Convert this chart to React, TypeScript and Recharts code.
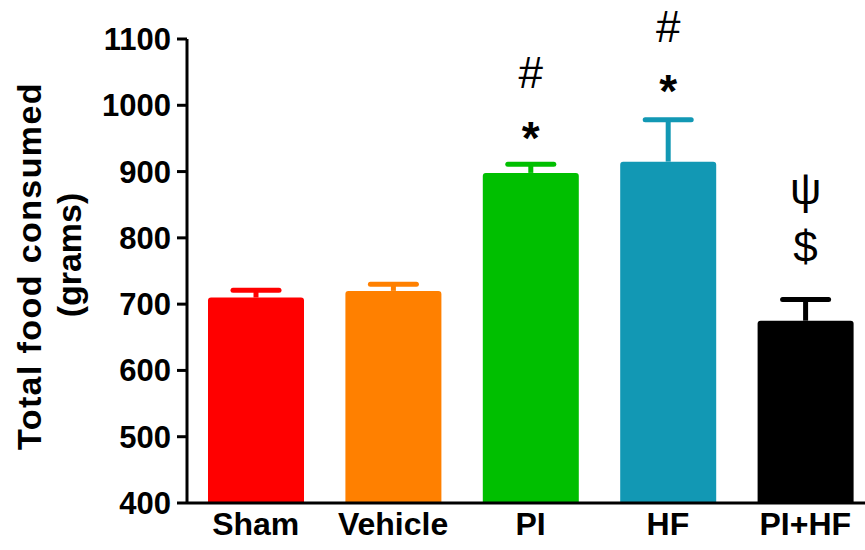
import { Bar, BarChart, Label, XAxis, YAxis } from "recharts";

const categories = ["Sham", "Vehicle", "PI", "HF", "PI+HF"];
const meanFood = [710, 720, 898, 915, 675];
const semFood = [11, 10, 13, 63, 32];
const barColors = ["#ff0000", "#ff8000", "#00bf00", "#1298b4", "#000000"];
// significance marks: lower one sits right above the error cap, upper one above it
const lowerMarks = ["", "", "*", "*", "$"];
const upperMarks = ["", "", "#", "#", "\u03c8"];
const yTicks = [400, 500, 600, 700, 800, 900, 1000, 1100];

const Y_MIN = 400;
const Y_MAX = 1100;
const FONT = "'Liberation Sans', Arial, Helvetica, sans-serif";

// baseline distance (px) of each mark above the error cap
const lowerGap = [0, 0, 10, 13, 38];
const upperGap = [0, 0, 76, 78, 96];

const data = categories.map((name, i) => ({
  name,
  mean: meanFood[i],
  sem: semFood[i],
  color: barColors[i],
  lower: lowerMarks[i],
  upper: upperMarks[i],
  idx: i,
}));

function BarWithError(props: any) {
  const { x, y, width, height, payload } = props;
  const r = 3;
  const pxPerUnit = height / (payload.mean - Y_MIN);
  const capY = y - payload.sem * pxPerUnit;
  const cx = x + width / 2;
  const capHalf = 23;
  const path = `M${x},${y + height} L${x},${y + r} Q${x},${y} ${x + r},${y} L${x + width - r},${y} Q${x + width},${y} ${x + width},${y + r} L${x + width},${y + height} Z`;
  const i = payload.idx;
  return (
    <g>
      <path d={path} fill={payload.color} />
      <line x1={cx} x2={cx} y1={y} y2={capY} stroke={payload.color} strokeWidth={5} />
      <line
        x1={cx - capHalf}
        x2={cx + capHalf}
        y1={capY}
        y2={capY}
        stroke={payload.color}
        strokeWidth={5}
        strokeLinecap="round"
      />
      {payload.lower && (
        <text
          x={cx}
          y={capY - lowerGap[i]}
          textAnchor="middle"
          fontFamily={FONT}
          fontSize={payload.lower === "*" ? 46 : 44}
          fontWeight={payload.lower === "*" ? 700 : 400}
          fill="#000"
        >
          {payload.lower}
        </text>
      )}
      {payload.upper && (
        <text
          x={cx}
          y={capY - upperGap[i]}
          textAnchor="middle"
          fontFamily={FONT}
          fontSize={44}
          fill="#000"
        >
          {payload.upper}
        </text>
      )}
    </g>
  );
}

function YTitle() {
  return (
    <g fontFamily={FONT} fontWeight={700} fontSize={34} fill="#000">
      <text x={41} y={266} transform="rotate(-90 41 266)" textAnchor="middle" letterSpacing={1.4}>
        Total food consumed
      </text>
      <text x={81} y={255} transform="rotate(-90 81 255)" textAnchor="middle">
        (grams)
      </text>
    </g>
  );
}

export default function App() {
  return (
    <div
      style={{
        position: "absolute",
        left: 0,
        top: 0,
        width: 865,
        height: 550,
        overflow: "hidden",
        background: "#fff",
      }}
    >
      <BarChart
        width={874}
        height={550}
        data={data}
        margin={{ top: 39, right: 0, bottom: 0, left: 0 }}
        barSize={96}
      >
        <XAxis
          dataKey="name"
          axisLine={{ stroke: "#000", strokeWidth: 3 }}
          tickLine={false}
          tickSize={0}
          tickMargin={9}
          height={47}
          tick={{ fill: "#000", fontSize: 32, fontWeight: 700, fontFamily: FONT }}
        />
        <YAxis
          type="number"
          domain={[Y_MIN, Y_MAX]}
          ticks={yTicks}
          interval={0}
          width={187}
          axisLine={{ stroke: "#000", strokeWidth: 3 }}
          tickLine={{ stroke: "#000", strokeWidth: 3 }}
          tickSize={10}
          tickMargin={6}
          tick={{ fill: "#000", fontSize: 31, fontWeight: 700, fontFamily: FONT }}
        >
          <Label content={<YTitle />} />
        </YAxis>
        <Bar dataKey="mean" shape={<BarWithError />} isAnimationActive={false} />
      </BarChart>
    </div>
  );
}
